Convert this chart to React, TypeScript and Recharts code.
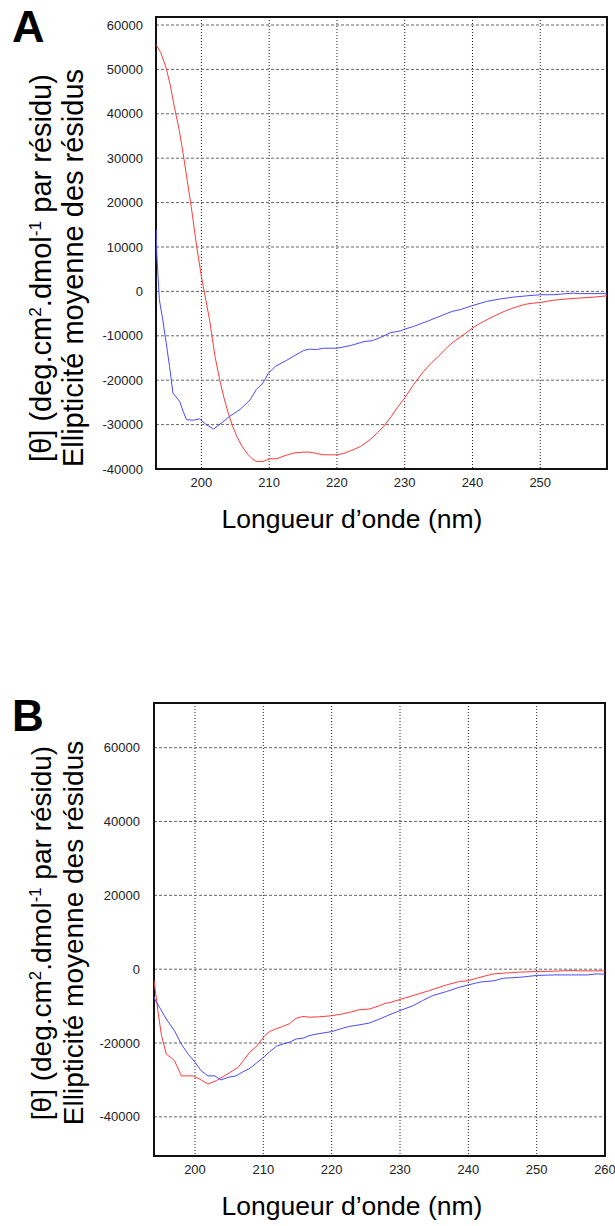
import React from "react";
import {
  LineChart,
  Line,
  XAxis,
  YAxis,
  CartesianGrid,
  ReferenceArea,
} from "recharts";

// Panel A
const redANm = [
  193.35, 194.0, 194.8, 195.4, 196.0, 196.7, 197.3, 197.9, 198.5, 199.3, 200.0,
  200.6, 201.2, 202.0, 202.7, 203.3, 203.95, 204.6, 205.2, 206.0, 206.9, 207.5,
  208.1, 209.1, 210.1, 211.1, 212.3, 213.6, 215.0, 216.0, 217.0, 218.0, 219.0,
  220.0, 221.0, 221.5, 222.5, 223.5, 224.9, 226.0, 226.9, 228.0, 228.9, 230.0,
  231.3, 232.8, 234.0, 235.0, 236.0, 236.7, 237.5, 238.4, 240.0, 241.0, 242.1,
  243.0, 244.1, 245.0, 246.0, 247.0, 248.0, 249.0, 250.0, 251.9, 253.9, 255.8,
  257.8, 259.85,
];
const redAVal = [
  55500, 53800, 50300, 46500, 41600, 36500, 31100, 25000, 19100, 10100, 3400,
  -1500, -6400, -14600, -19900, -23800, -27400, -30300, -32600, -34900, -36800,
  -37700, -38300, -38300, -37700, -37700, -37000, -36400, -36200, -36200,
  -36500, -36800, -36800, -36800, -36500, -36200, -35600, -34900, -33400,
  -31800, -30400, -28200, -26200, -24000, -21000, -18000, -16000, -14600,
  -13000, -12000, -11000, -10100, -8250, -7300, -6400, -5700, -4900, -4300,
  -3750, -3250, -2850, -2650, -2500, -2000, -1700, -1500, -1300, -1000,
];
const blueANm = [
  193.35, 193.4, 193.6, 193.8, 194.3, 194.8, 195.3, 195.8, 196.8, 197.3, 197.8,
  198.8, 199.75, 200.7, 201.8, 203.0, 204.2, 205.7, 207.2, 208.1, 209.1, 209.9,
  210.9, 212.6, 213.6, 215.1, 216.0, 217.0, 218.0, 220.0, 222.0, 224.0, 225.2,
  226.4, 227.9, 229.4, 230.0, 231.3, 233.3, 235.2, 237.0, 238.2, 240.0, 242.1,
  244.1, 246.0, 248.0, 250.0, 251.9, 253.9, 254.9, 255.8, 257.8, 259.85,
];
const blueAVal = [
  13900, 9000, 3400, -1900, -6400, -11600, -16900, -22900, -24800, -27000,
  -28900, -29000, -28700, -30000, -31000, -29600, -28100, -26600, -24400,
  -22100, -20600, -18400, -16900, -15500, -14600, -13300, -13000, -13100,
  -12800, -12800, -12200, -11300, -11100, -10400, -9300, -8900, -8500, -7900,
  -6750, -5600, -4500, -4100, -3200, -2250, -1700, -1300, -1000, -750, -750,
  -500, -400, -500, -500, -500,
];

// Panel B
const redBNm = [
  194.0, 194.6, 195.1, 195.8, 196.5, 197.0, 197.5, 198.0, 199.7, 200.7, 201.9,
  203.1, 204.2, 205.1, 206.3, 207.2, 208.0, 209.0, 210.2, 210.9, 211.8, 212.8,
  213.8, 214.8, 215.8, 216.7, 218.2, 220.0, 221.6, 222.6, 224.0, 225.5, 227.0,
  227.9, 228.4, 230.0, 231.9, 234.3, 236.8, 238.7, 240.0, 241.7, 243.6, 245.6,
  247.5, 250.0, 252.5, 254.9, 256.4, 258.3, 260.0,
];
const redBVal = [
  -3000, -11700, -18000, -23000, -24000, -24800, -26800, -28900, -28900,
  -29800, -31100, -30200, -29000, -28000, -26600, -24500, -22500, -20900,
  -18000, -16900, -16200, -15500, -14800, -13300, -12800, -13000, -12900,
  -12600, -12100, -11700, -11000, -10800, -9900, -9200, -9100, -8200, -7150,
  -5800, -4250, -3350, -3100, -2200, -1300, -1000, -800, -630, -540, -360,
  -450, -450, -450,
];
const blueBNm = [
  194.0, 194.1, 194.8, 195.8, 197.0, 198.0, 199.0, 200.0, 200.9, 201.9, 202.9,
  203.8, 204.8, 206.0, 207.0, 208.0, 209.0, 210.0, 210.9, 211.9, 212.8, 213.8,
  214.8, 215.8, 216.7, 217.7, 220.0, 221.6, 222.6, 224.0, 225.5, 227.0, 228.4,
  230.0, 231.9, 233.3, 234.8, 236.8, 238.7, 240.0, 241.7, 243.9, 245.1, 247.5,
  250.0, 252.5, 254.9, 257.4, 258.8, 260.0,
];
const blueBVal = [
  -7500, -8050, -10300, -13500, -16700, -20300, -23000, -25200, -27500, -28900,
  -28900, -30000, -29300, -28900, -27800, -26900, -25400, -23900, -22400,
  -20900, -20300, -19800, -18900, -18700, -18000, -17600, -16900, -16000,
  -15500, -15100, -14600, -13500, -12400, -11200, -9900, -8500, -7150, -6060,
  -4900, -4250, -3500, -3100, -2450, -2200, -1700, -1550, -1550, -1550, -1270,
  -1350,
];

const ticksA_x = [200, 210, 220, 230, 240, 250];
const ticksA_y = [-40000, -30000, -20000, -10000, 0, 10000, 20000, 30000, 40000, 50000, 60000];
const ticksB_x = [200, 210, 220, 230, 240, 250, 260];
const ticksB_y = [-40000, -20000, 0, 20000, 40000, 60000];

const zip = (nm: number[], val: number[]) => nm.map((x, i) => ({ x, y: val[i] }));

const FONT = "Arial, 'Liberation Sans', sans-serif";
const RED = "#ff3b3b";
const BLUE = "#4a4aff";

type PanelProps = {
  top: number;
  height: number;
  xDomain: [number, number];
  yDomain: [number, number];
  xTicks: number[];
  yTicks: number[];
  red: { x: number; y: number }[];
  blue: { x: number; y: number }[];
  margin: { top: number; right: number; bottom: number; left: number };
  yAxisWidth: number;
  yTickMargin: number;
};

const tickStyle = { fontSize: 13, fill: "#222", fontFamily: FONT };

const Panel = (p: PanelProps) => (
  <div style={{ position: "absolute", left: 0, top: p.top }}>
    <LineChart width={615} height={p.height} margin={p.margin}>
      <CartesianGrid horizontal={false} stroke="#222" strokeDasharray="1 2" />
      <CartesianGrid vertical={false} stroke="#666" strokeDasharray="3 2" />
      <XAxis
        type="number"
        dataKey="x"
        domain={p.xDomain}
        ticks={p.xTicks}
        interval={0}
        allowDataOverflow
        axisLine={false}
        tickLine={false}
        tickSize={0}
        tickMargin={9}
        height={30}
        tick={tickStyle}
      />
      <YAxis
        type="number"
        dataKey="y"
        domain={p.yDomain}
        ticks={p.yTicks}
        interval={0}
        allowDataOverflow
        axisLine={false}
        tickLine={false}
        tickSize={0}
        tickMargin={p.yTickMargin}
        width={p.yAxisWidth}
        tick={tickStyle}
      />
      <Line
        data={p.red}
        dataKey="y"
        type="linear"
        stroke={RED}
        strokeWidth={1}
        dot={false}
        isAnimationActive={false}
      />
      <Line
        data={p.blue}
        dataKey="y"
        type="linear"
        stroke={BLUE}
        strokeWidth={1}
        dot={false}
        isAnimationActive={false}
      />
      <ReferenceArea
        x1={p.xDomain[0]}
        x2={p.xDomain[1]}
        y1={p.yDomain[0]}
        y2={p.yDomain[1]}
        fill="none"
        stroke="#111"
        strokeWidth={2}
      />
    </LineChart>
  </div>
);

const YTitle = ({ cy, size }: { cy: number; size: number }) => (
  <>
    <text
      transform={`translate(51,${cy}) rotate(-90)`}
      textAnchor="middle"
      fontSize={size}
      fontFamily={FONT}
      fill="#000"
    >
      [θ] (deg.cm
      <tspan dy={-size * 0.35} fontSize={size * 0.6}>2</tspan>
      <tspan dy={size * 0.35}>.dmol</tspan>
      <tspan dy={-size * 0.35} fontSize={size * 0.6}>-1</tspan>
      <tspan dy={size * 0.35}> par résidu)</tspan>
    </text>
    <text
      transform={`translate(83,${cy}) rotate(-90)`}
      textAnchor="middle"
      fontSize={size}
      fontFamily={FONT}
      fill="#000"
    >
      Ellipticité moyenne des résidus
    </text>
  </>
);

export default function App() {
  return (
    <div
      style={{
        position: "absolute",
        left: 0,
        top: 0,
        width: 615,
        height: 1226,
        background: "#fff",
        overflow: "hidden",
      }}
    >
      <Panel
        top={0}
        height={540}
        xDomain={[193.3, 259.85]}
        yDomain={[-40000, 61800]}
        xTicks={ticksA_x}
        yTicks={ticksA_y}
        red={zip(redANm, redAVal)}
        blue={zip(blueANm, blueAVal)}
        margin={{ top: 17, right: 8, bottom: 41, left: 0 }}
        yAxisWidth={156}
        yTickMargin={13}
      />
      <Panel
        top={690}
        height={536}
        xDomain={[194, 260]}
        yDomain={[-50600, 72100]}
        xTicks={ticksB_x}
        yTicks={ticksB_y}
        red={zip(redBNm, redBVal)}
        blue={zip(blueBNm, blueBVal)}
        margin={{ top: 13, right: 10, bottom: 40, left: 0 }}
        yAxisWidth={154}
        yTickMargin={14}
      />
      <svg
        width={615}
        height={1226}
        style={{ position: "absolute", left: 0, top: 0, pointerEvents: "none" }}
      >
        <text x={12} y={42} fontSize={45} fontWeight="bold" fontFamily={FONT}>
          A
        </text>
        <text x={12} y={731} fontSize={44} fontWeight="bold" fontFamily={FONT}>
          B
        </text>
        <YTitle cy={268} size={29} />
        <YTitle cy={933} size={28} />
        <text x={352} y={528} textAnchor="middle" fontSize={26.5} fontFamily={FONT}>
          Longueur d’onde (nm)
        </text>
        <text x={352} y={1215} textAnchor="middle" fontSize={26.5} fontFamily={FONT}>
          Longueur d’onde (nm)
        </text>
      </svg>
    </div>
  );
}
